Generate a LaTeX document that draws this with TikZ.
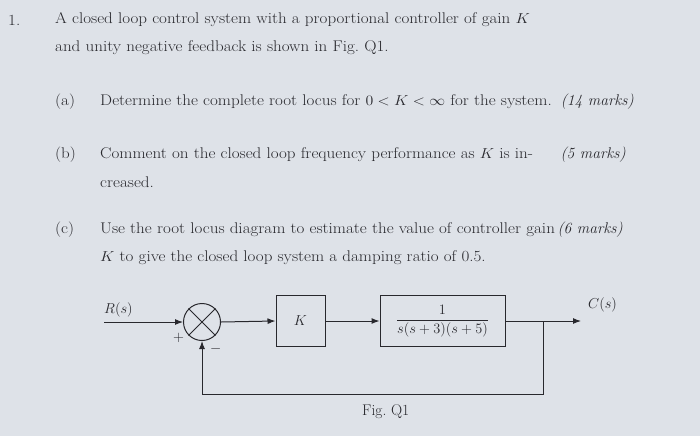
\documentclass[tikz,border=0pt]{standalone}
\usetikzlibrary{arrows.meta}
\definecolor{bg}{RGB}{222,226,232}
\definecolor{ink}{RGB}{40,40,45}
\newcommand{\wtxt}[1]{\scalebox{1.1}[1]{#1}}
\begin{document}
\begin{tikzpicture}[x=1pt,y=-1pt,
  txt/.style={anchor=west,inner sep=0pt,text=ink,font=\fontsize{15.5}{18}\selectfont},
  blk/.style={draw=ink,line width=1pt,minimum height=51pt,inner sep=0pt},
  sig/.style={draw=ink,line width=1pt,-{Latex[length=8pt,width=6pt]}},
  ln/.style={draw=ink,line width=1pt}]
\fill[bg] (0,0) rectangle (700,436);
\useasboundingbox (0,0) rectangle (700,436);
\node[txt] (n1) at (8,20) {\wtxt{1.}};
\node[txt] (l1) at (55,20) {\wtxt{A closed loop control system with a proportional controller of gain $K$}};
\node[txt] (l2) at (55,48) {\wtxt{and unity negative feedback is shown in Fig.~Q1.}};
\node[txt] (a) at (55,102) {\wtxt{(a)}};
\node[txt] (at) at (100,102) {\wtxt{Determine the complete root locus for $0<K<\infty$ for the system.}};
\node[txt,anchor=east] (am) at (634,102) {\textit{(14 marks)}};
\node[txt] (b) at (55,155) {\wtxt{(b)}};
\node[txt] (bt) at (100,155) {\wtxt{Comment on the closed loop frequency performance as $K$ is in-}};
\node[txt] (bt2) at (100,182) {\wtxt{creased.}};
\node[txt,anchor=east] (bm) at (626,155) {\textit{(5 marks)}};
\node[txt] (c) at (55,230) {\wtxt{(c)}};
\node[txt] (ct) at (100,230) {\wtxt{Use the root locus diagram to estimate the value of controller gain}};
\node[txt] (ct2) at (100,258) {\wtxt{$K$ to give the closed loop system a damping ratio of 0.5.}};
\node[txt,anchor=east] (cm) at (623,230) {\textit{(6 marks)}};
% diagram
\coordinate (in) at (104,322);
\node[draw=ink,line width=1pt,circle,minimum size=37pt,inner sep=0pt] (s) at (202,322) {};
\draw[ln] (s.north west) -- (s.south east) (s.north east) -- (s.south west);
\node[blk,minimum width=49pt,text=ink] (k) at (300.5,321) {\fontsize{15.5}{18}\selectfont $K$};
\node[blk,minimum width=125pt,text=ink] (g) at (442.5,321) {\fontsize{14}{17}\selectfont $\displaystyle\frac{1}{s(s+3)(s+5)}$};
\coordinate (br) at (543,321);
\coordinate (out) at (581,321);
\coordinate (fb) at (543,394);
\coordinate (fb2) at (202,394);
\draw[sig] (in) -- (s.west);
\draw[sig] (s.east) -- (k.west);
\draw[sig] (k.east) -- (g.west);
\draw[sig] (g.east) -- (out);
\draw[sig] (br) -- (fb) -- (fb2) -- (s.south);
\node[txt] (R) at (104,310) {$R(s)$};
\node[txt] (C) at (588,305) {$C(s)$};
\node[txt] (p) at (173,338) {$+$};
\node[txt] (m) at (210,349) {$-$};
\node[txt] (fig) at (362,412) {Fig.~Q1};
\end{tikzpicture}
\end{document}
